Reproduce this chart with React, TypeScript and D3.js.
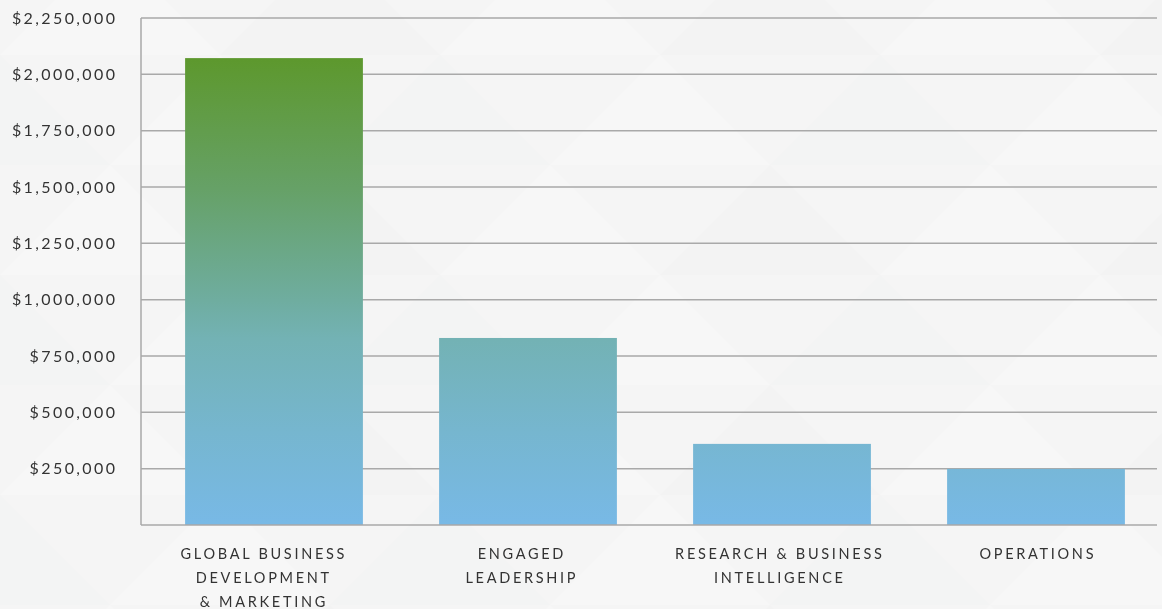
import React from "react";
import * as d3 from "d3";

const categories = ["GLOBAL BUSINESS|DEVELOPMENT|& MARKETING", "ENGAGED|LEADERSHIP", "RESEARCH & BUSINESS|INTELLIGENCE", "OPERATIONS"];
const values = [2072000, 830000, 360000, 249000];
const yTicks = [250000, 500000, 750000, 1000000, 1250000, 1500000, 1750000, 2000000, 2250000];

const W = 1162, H = 609;
const left = 141, right = 1157, top = 18, bottom = 525;

export default function App() {
  const y = d3.scaleLinear().domain([0, 2250000]).range([bottom, top]);
  const x = d3.scaleBand<string>().domain(categories).range([147, 1163]).paddingInner(0.3).paddingOuter(0.15);
  const xl = d3.scaleBand<string>().domain(categories).range([133.5, 1165.5]);
  const fmt = (v: number) => "$" + d3.format(",")(v);
  const gTop = y(d3.max(values) as number);
  const lsT = 2.4, lsC = 2.7;
  return (
    <svg width={W} height={H} style={{ position: "fixed", left: 0, top: 0, display: "block" }}>
      <defs>
        <pattern id="tri" x="0" y="-55" width="440" height="220" patternUnits="userSpaceOnUse">
          <rect width="440" height="220" fill="#f5f5f5" />
          <path d="M0,110 L110,0 L220,110 Z" fill="#f7f7f7" />
          <path d="M220,110 L330,0 L440,110 Z" fill="#f3f3f3" />
          <path d="M110,220 L220,110 L330,220 Z" fill="#f7f7f7" />
          <path d="M-110,220 L0,110 L110,220 Z" fill="#f3f4f4" />
          <path d="M330,220 L440,110 L550,220 Z" fill="#f3f4f4" />
        </pattern>
        <linearGradient id="barGrad" gradientUnits="userSpaceOnUse" x1="0" x2="0" y1={gTop} y2={bottom}>
          <stop offset="0" stopColor="#5d982d" />
          <stop offset="0.28" stopColor="#66a167" />
          <stop offset="0.52" stopColor="#6fada0" />
          <stop offset="0.6" stopColor="#73b2b4" />
          <stop offset="0.8" stopColor="#76b6cf" />
          <stop offset="1" stopColor="#78b9e6" />
        </linearGradient>
      </defs>
      <rect width={W} height={H} fill="url(#tri)" />
      {yTicks.map((t) => (
        <line key={t} x1={left} x2={right} y1={y(t)} y2={y(t)} stroke="#a9a9a9" strokeWidth={1.5} />
      ))}
      <line x1={left} x2={left} y1={top} y2={bottom} stroke="#a9a9a9" strokeWidth={1.5} />
      {categories.map((c, i) => (
        <rect key={c} x={x(c)} y={y(values[i])} width={x.bandwidth()} height={bottom - y(values[i])} fill="url(#barGrad)" />
      ))}
      <line x1={left} x2={right} y1={bottom} y2={bottom} stroke="#a9a9a9" strokeWidth={1.5} />
      {yTicks.map((t) => (
        <text key={t} x={115 + lsT} y={y(t)} dy="0.35em" textAnchor="end" fontFamily="Lato, sans-serif" fontSize={16} letterSpacing={lsT} fill="#333">
          {fmt(t)}
        </text>
      ))}
      {categories.map((c) => (
        <text key={c} textAnchor="middle" fontFamily="Lato, sans-serif" fontSize={14.5} letterSpacing={lsC} fill="#333">
          {c.split("|").map((line, j) => (
            <tspan key={j} x={(xl(c) as number) + xl.bandwidth() / 2 + lsC / 2} y={559 + j * 24}>{line}</tspan>
          ))}
        </text>
      ))}
    </svg>
  );
}
